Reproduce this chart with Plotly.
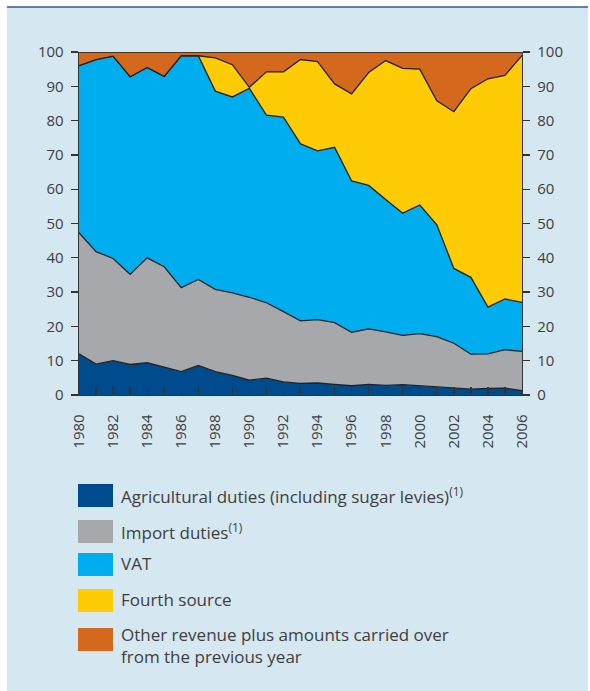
import plotly.graph_objects as go

years = list(range(1980, 2007))

agricultural = [12.0, 9.0, 10.0, 8.9, 9.4, 8.0, 6.8, 8.6, 6.8, 5.7, 4.3, 4.9, 3.8, 3.4, 3.5,
                3.1, 2.7, 3.1, 2.8, 3.0, 2.7, 2.2, 2.1, 1.7, 1.9, 2.0, 1.3]
import_duties = [35.3, 32.8, 29.8, 26.3, 30.6, 29.4, 24.5, 25.1, 24.0, 24.1, 24.2, 22.0, 20.5, 18.2,
                 18.5, 18.0, 15.6, 16.2, 15.6, 14.4, 15.2, 14.8, 13.0, 10.2, 10.1, 11.2, 11.4]
vat = [48.7, 56.0, 59.0, 57.6, 55.5, 55.5, 67.6, 65.2, 57.8, 57.1, 60.9, 54.7, 56.7, 51.6,
       49.2, 51.1, 44.1, 41.8, 38.6, 35.6, 37.5, 32.6, 21.8, 22.4, 13.6, 14.8, 14.3]
fourth_source = [0, 0, 0, 0, 0, 0, 0, 0, 9.7, 9.4, 0.3, 12.6, 13.2, 24.6, 26.0, 18.5, 25.4,
                 32.9, 40.5, 42.2, 39.6, 36.2, 45.7, 55.0, 66.6, 65.2, 72.0]
other_revenue = [4.0, 2.2, 1.2, 7.2, 4.5, 7.1, 1.1, 1.1, 1.7, 3.7, 10.3, 5.8, 5.8, 2.2, 2.8,
                 9.3, 12.2, 6.0, 2.5, 4.8, 5.0, 14.2, 17.4, 10.7, 7.8, 6.8, 1.0]

series_names = [
    "Agricultural duties (including sugar levies)<sup>(1)</sup>",
    "Import duties<sup>(1)</sup>",
    "VAT",
    "Fourth source",
    "Other revenue plus amounts carried over<br>from the previous year",
]
series_values = [agricultural, import_duties, vat, fourth_source, other_revenue]
colors = ["#004b8d", "#a7a8ac", "#00aeef", "#ffcb05", "#d4691d"]

y_ticks = list(range(0, 101, 10))
x_ticks = list(range(1980, 2007, 2))

BG = "#d5e7f1"
TXT = "#404040"
FONT = "Open Sans"

fig = go.Figure()
for name, vals, col in zip(series_names, series_values, colors):
    fig.add_trace(go.Scatter(
        x=years, y=vals, name=name.replace("<br>", " "), mode="lines", stackgroup="one",
        line=dict(color="#222222", width=1.3), fillcolor=col,
        hoverinfo="skip", showlegend=False,
    ))

# invisible trace for right axis
fig.add_trace(go.Scatter(x=[years[0]], y=[0], yaxis="y2", mode="markers",
                         marker=dict(opacity=0), showlegend=False, hoverinfo="skip"))

W, H = 590, 691
L, R, T, B = 79, 522, 52, 395
pw, ph = R - L, B - T

def px(x):
    return (x - L) / pw

def py(y):
    return (B - y) / ph

shapes = [
    dict(type="rect", xref="paper", yref="paper", x0=px(7), x1=px(588), y0=py(691), y1=py(7.5),
         fillcolor=BG, line=dict(width=0), layer="below"),
    dict(type="line", xref="paper", yref="paper", x0=px(7), x1=px(588), y0=py(7), y1=py(7),
         line=dict(color="#2a5a8a", width=1.3), layer="above"),
]
annotations = []
legend_tops = [484, 520, 553, 589, 628]
for i, (name, col) in enumerate(zip(series_names, colors)):
    t = legend_tops[i]
    shapes.append(dict(type="rect", xref="paper", yref="paper", x0=px(78), x1=px(113),
                       y0=py(t + 23), y1=py(t), fillcolor=col, line=dict(width=0)))
    start = t - 3 if "<br>" not in name else t - 7
    annotations.append(dict(xref="paper", yref="paper", x=px(119), y=py(start),
                            xanchor="left", yanchor="top", text=name, showarrow=False,
                            align="left", font=dict(family=FONT, size=17, color=TXT)))

axis_common = dict(showgrid=False, zeroline=False, showline=True, linecolor="#333333", linewidth=1.3,
                   tickcolor="#333333", tickfont=dict(family=FONT, size=15, color=TXT))

fig.update_layout(
    width=W, height=H,
    margin=dict(l=L, r=W - R, t=T, b=H - B, pad=0),
    paper_bgcolor="white", plot_bgcolor=BG,
    shapes=shapes, annotations=annotations,
    xaxis=dict(range=[1980, 2006], tickvals=x_ticks, ticks="inside", ticklen=8, tickwidth=1.3,
               tickangle=-90, ticklabelstandoff=12,
               minor=dict(tickvals=years, ticks="inside", ticklen=8, tickwidth=1.3, tickcolor="#333333"),
               **axis_common),
    yaxis=dict(range=[0, 100], tickvals=y_ticks, ticks="outside", ticklen=7, tickwidth=1.3,
               ticklabelstandoff=4, **axis_common),
    yaxis2=dict(range=[0, 100], tickvals=y_ticks, ticks="outside", ticklen=7, tickwidth=1.3,
                ticklabelstandoff=4, overlaying="y", side="right", **axis_common),
    showlegend=False,
)

fig.write_html("out.html", config={"displayModeBar": False, "staticPlot": True},
               post_script="document.body.style.margin='0';document.body.style.overflow='hidden';")
